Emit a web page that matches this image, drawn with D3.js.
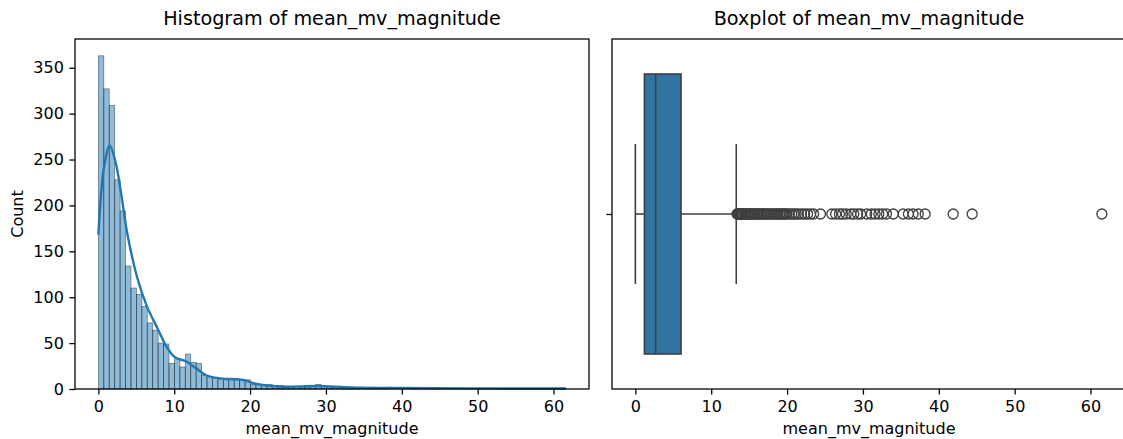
<!DOCTYPE html>
<html>
<head>
<meta charset="utf-8">
<style>
html, body { margin:0; padding:0; background:white; }
svg { display:block; font-family:"DejaVu Sans", sans-serif; }
</style>
</head>
<body>
<div id="chart"></div>
<script src="https://d3js.org/d3.v7.min.js"></script>
<script>
// ---- data ----
const binStart = 0, binEnd = 61.6;
const histCounts = [363, 327, 309, 228, 194, 134, 110, 103, 90, 72, 64, 50, 49, 28, 33, 24, 38, 29, 28, 15, 13, 12,
  11, 10, 10, 11, 10, 10,
  5, 5, 4, 5, 4, 4,
  3, 2, 3, 2, 2, 3,
  5,
  3, 2, 2, 3, 2, 2, 1, 2,
  1, 2, 1, 1, 2,
  0, 0, 0, 0,
  1,
  0, 0, 0,
  1,
  0, 0, 0, 0, 0, 0, 0, 0, 0, 0, 0, 0, 0, 0, 0, 0, 0, 0, 0, 0, 0, 0,
  1];
const kdeX = [0, 0.75, 1.5, 2.3, 3, 3.8, 5.1, 6.4, 7.8, 9, 10.1, 11.6, 12.9, 14.2, 16.1, 19.1, 20.9, 24.4, 28.8, 33.2, 39.8, 48.6, 61.6];
const kdeY = [168, 242, 265, 246, 213, 170, 122, 90, 66, 46, 34.5, 30, 22.5, 15, 11.6, 9.8, 5.4, 2.5, 3.3, 1.8, 1.1, 0.7, 0.6];
const boxStats = {min: 0, q1: 1.19, median: 2.68, q3: 6.02, whiskerHigh: 13.3};
const outliers = [13.4,13.5,13.6,13.7,13.8,13.9,14.0,14.1,14.2,14.4,14.5,14.6,14.8,14.9,15.0,15.2,15.3,15.5,15.7,15.8,
  16.0,16.2,16.3,16.5,16.7,16.9,17.0,17.2,17.4,17.6,17.8,18.0,18.2,18.4,18.6,18.8,19.0,19.2,19.4,19.6,19.8,
  20.0,20.3,20.6,20.9,21.2,21.5,21.9,22.3,22.7,23.1,23.5,24.4,25.9,26.4,26.9,27.3,27.8,28.4,28.8,29.3,29.7,
  30.5,31.1,31.6,32.1,32.6,33.1,34.0,35.3,36.0,36.6,37.3,38.2,41.9,44.4,61.5];
const xTicks = [0, 10, 20, 30, 40, 50, 60];
const yTicks = [0, 50, 100, 150, 200, 250, 300, 350];
const titles = ["Histogram of mean_mv_magnitude", "Boxplot of mean_mv_magnitude"];
const xLabel = "mean_mv_magnitude";
const yLabel = "Count";

const W = 1123, H = 439;
const yTop = 39, yBottom = 389;
const xDomain = [-3.08, 64.68];
const fs = 16;

const svg = d3.select("#chart").append("svg")
  .attr("width", W).attr("height", H);

function styleAxis(g) {
  g.select(".domain").remove();
  g.selectAll("line").attr("stroke", "#000").attr("stroke-width", 1.28);
  g.selectAll("text").attr("fill", "#000").style("font-size", fs + "px")
    .style("font-family", "DejaVu Sans");
}

function frame(x0, x1) {
  svg.append("rect")
    .attr("x", x0).attr("y", yTop)
    .attr("width", x1 - x0).attr("height", yBottom - yTop)
    .attr("fill", "none").attr("stroke", "#000").attr("stroke-width", 1.28);
}

function titleAndLabel(x0, x1, title) {
  svg.append("text")
    .attr("x", (x0 + x1) / 2).attr("y", 25)
    .attr("text-anchor", "middle")
    .style("font-size", "19.2px")
    .text(title);
  svg.append("text")
    .attr("x", (x0 + x1) / 2).attr("y", 434)
    .attr("text-anchor", "middle")
    .style("font-size", fs + "px")
    .text(xLabel);
}

// ---- histogram ----
const x1 = d3.scaleLinear().domain(xDomain).range([75, 589]);
const y1 = d3.scaleLinear().domain([0, 381.3]).range([yBottom, yTop]);
const binW = (binEnd - binStart) / histCounts.length;
const bins = histCounts.map((c, i) => ({x0: binStart + i * binW, x1: binStart + (i + 1) * binW, c}));

const gh = svg.append("g");
gh.selectAll("rect.bar")
  .data(bins.filter(d => d.c > 0))
  .join("rect")
  .attr("class", "bar")
  .attr("x", d => x1(d.x0))
  .attr("width", d => x1(d.x1) - x1(d.x0))
  .attr("y", d => y1(d.c))
  .attr("height", d => y1(0) - y1(d.c))
  .attr("fill", "rgba(31,119,180,0.5)")
  .attr("stroke", "rgba(0,0,0,0.45)")
  .attr("stroke-width", 0.8);

const kde = kdeX.map((v, i) => [v, kdeY[i]]);
gh.append("path")
  .datum(kde)
  .attr("fill", "none")
  .attr("stroke", "#1f77b4")
  .attr("stroke-width", 2.4)
  .attr("d", d3.line().x(d => x1(d[0])).y(d => y1(d[1])).curve(d3.curveCatmullRom.alpha(0.5)));

svg.append("g").attr("transform", `translate(0,${yBottom})`)
  .call(d3.axisBottom(x1).tickValues(xTicks).tickSize(5.6).tickPadding(5.6))
  .call(styleAxis);
svg.append("g").attr("transform", `translate(75,0)`)
  .call(d3.axisLeft(y1).tickValues(yTicks).tickSize(5.6).tickPadding(5.6))
  .call(styleAxis);
frame(75, 589);
titleAndLabel(75, 589, titles[0]);
svg.append("text")
  .attr("transform", `translate(23,${(yTop + yBottom) / 2}) rotate(-90)`)
  .attr("text-anchor", "middle")
  .style("font-size", fs + "px")
  .text(yLabel);

// ---- boxplot ----
const x2 = d3.scaleLinear().domain(xDomain).range([612, 1126]);
const y2 = d3.scaleLinear().domain([-0.5, 0.5]).range([yBottom, yTop]);
const gb = svg.append("g");
const lineCol = "#3f3f3f";
const cy = y2(0);

gb.append("line")
  .attr("x1", x2(boxStats.min)).attr("x2", x2(boxStats.q1))
  .attr("y1", cy).attr("y2", cy)
  .attr("stroke", lineCol).attr("stroke-width", 1.6);
gb.append("line")
  .attr("x1", x2(boxStats.q3)).attr("x2", x2(boxStats.whiskerHigh))
  .attr("y1", cy).attr("y2", cy)
  .attr("stroke", lineCol).attr("stroke-width", 1.6);
[boxStats.min, boxStats.whiskerHigh].forEach(v => {
  gb.append("line")
    .attr("x1", x2(v)).attr("x2", x2(v))
    .attr("y1", y2(0.2)).attr("y2", y2(-0.2))
    .attr("stroke", lineCol).attr("stroke-width", 1.6);
});
gb.append("rect")
  .attr("x", x2(boxStats.q1)).attr("width", x2(boxStats.q3) - x2(boxStats.q1))
  .attr("y", y2(0.4)).attr("height", y2(-0.4) - y2(0.4))
  .attr("fill", "#3274a1").attr("stroke", lineCol).attr("stroke-width", 1.6);
gb.append("line")
  .attr("x1", x2(boxStats.median)).attr("x2", x2(boxStats.median))
  .attr("y1", y2(0.4)).attr("y2", y2(-0.4))
  .attr("stroke", lineCol).attr("stroke-width", 1.6);
gb.selectAll("circle")
  .data(outliers)
  .join("circle")
  .attr("cx", d => x2(d)).attr("cy", cy).attr("r", 5)
  .attr("fill", "none").attr("stroke", lineCol).attr("stroke-width", 1.3);

svg.append("g").attr("transform", `translate(0,${yBottom})`)
  .call(d3.axisBottom(x2).tickValues(xTicks).tickSize(5.6).tickPadding(5.6))
  .call(styleAxis);
svg.append("g").attr("transform", `translate(612,0)`)
  .call(d3.axisLeft(y2).tickValues([0]).tickSize(5.6).tickFormat(""))
  .call(styleAxis);
frame(612, 1126);
titleAndLabel(612, 1126, titles[1]);
</script>
</body>
</html>
